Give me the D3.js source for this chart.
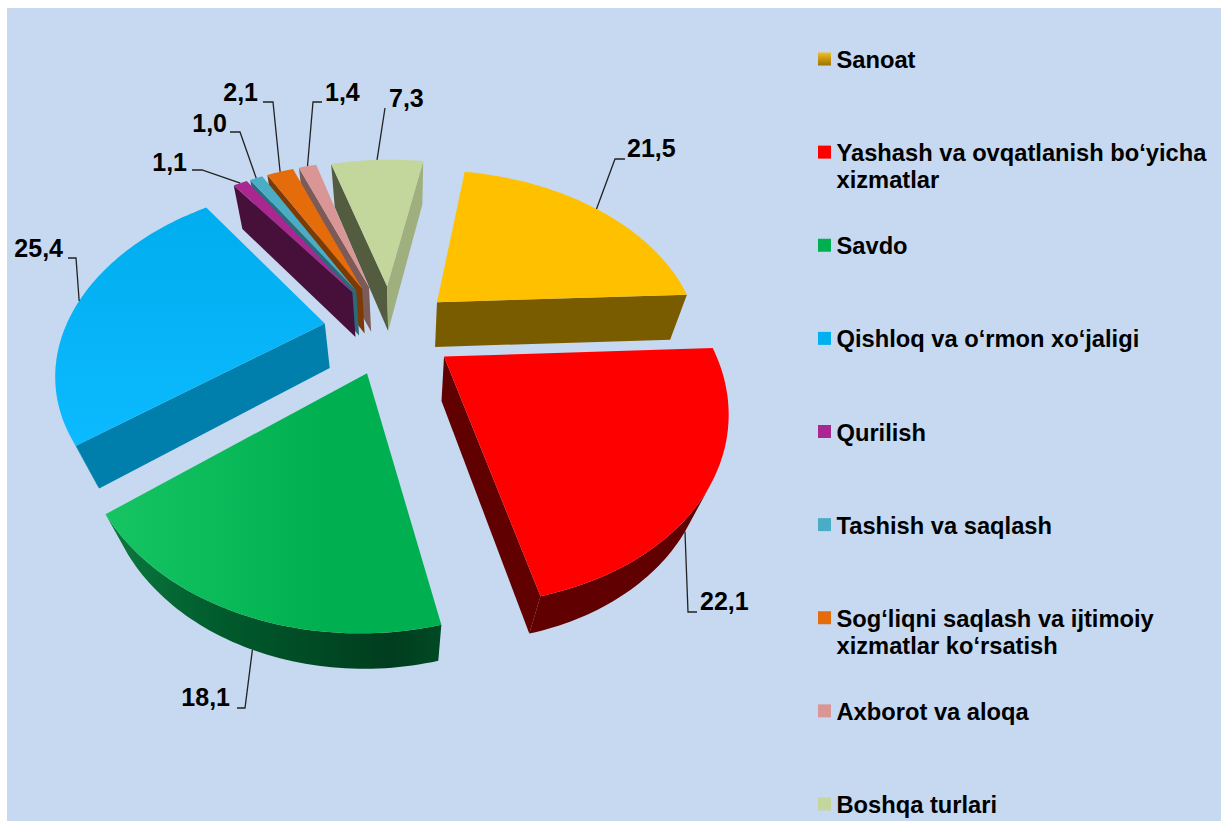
<!DOCTYPE html>
<html>
<head>
<meta charset="utf-8">
<script src="https://cdn.jsdelivr.net/npm/d3@7"></script>
<style>
  body { margin: 0; background: #fff; }
  text { font-family: "Liberation Sans", Arial, sans-serif; font-weight: bold; fill: #000; }
</style>
</head>
<body>
<svg id="main" width="1221" height="821"></svg>
<script>
let sectors = ['Sanoat', 'Yashash va ovqatlanish bo‘yicha|xizmatlar', 'Savdo', 'Qishloq va o‘rmon xo‘jaligi',
  'Qurilish', 'Tashish va saqlash', 'Sog‘liqni saqlash va ijtimoiy|xizmatlar ko‘rsatish', 'Axborot va aloqa', 'Boshqa turlari'];
let shares = [21.5, 22.1, 18.1, 25.4, 1.1, 1.0, 2.1, 1.4, 7.3];
let shareLabels = ['21,5', '22,1', '18,1', '25,4', '1,1', '1,0', '2,1', '1,4', '7,3'];
let topColors = ['#ffc000', '#ff0000', 'url(#greenTop)', 'url(#blueTop)', '#a9278f', '#4bacc6', '#e46c0a', '#d99694', '#c3d69b'];
let keyColors = ['url(#goldKey)', '#ff0000', '#00b050', '#00b0f0', '#a9278f', '#4bacc6', '#e46c0a', '#d99694', '#c3d69b'];
let sideColors = ['#7a5c00', '#600000', 'url(#greenSide)', '#007fac', '#47103a', '#2b6a7d', '#7c3a05', '#7c5a58', '#545c40'];
let explosion = [.245, .248, .252, .256, .272, .272, .272, .272, .263];

// label text spot + leader elbow, one per slice: [textX, baseline, anchor, elbow points]
let labelSpots = [
  [627, 157, 'start', [[615, 159], [625, 159]]],
  [700, 610, 'start', [[688, 612], [697, 612]]],
  [230, 706, 'end', [[245, 708], [237, 708]]],
  [63, 257, 'end', [[76, 258], [68, 258]]],
  [187, 171, 'end', [[202, 170], [192, 170]]],
  [227, 132, 'end', [[240, 132], [230, 132]]],
  [258, 101, 'end', [[273, 102], [263, 102]]],
  [325, 101, 'start', [[313, 102], [322, 102]]],
  [389, 107, 'start', [[385, 108]]]
];

//--------camera, fitted to the picture----------
let view = {cx: 390.5, cy: 329.4, a: 261.5, b: 174.25, p: .235, s: 3.69, t: -2.885, q: .066, vx: 405, vy: 1050};
function project(x, z, low=false){
  let w = 1 - view.p * z;
  let px = view.cx + (view.a * x + view.s * z) / w;
  let py = view.cy + (view.b * z + view.t * x) / w;
  if(low){
    let k = view.q / (w + view.q);
    px += (view.vx - px) * k;
    py += (view.vy - py) * k;
  }
  return [px, py];
}

let svg = d3.select('#main');
let defs = svg.append('defs');
function gradient(id, x2, y2, stops){
  let g = defs.append('linearGradient').attr('id', id)
  .attr('x1', 0).attr('y1', 0).attr('x2', x2).attr('y2', y2);
  g.selectAll('stop').data(stops).join('stop')
  .attr('offset', d=>d[0]).attr('stop-color', d=>d[1]);
}
gradient('greenTop', 1, 0, [[0, '#16c462'], [.65, '#00b050'], [1, '#00b050']]);
gradient('blueTop', 0, 1, [[0, '#00adee'], [1, '#0cbaff']]);
gradient('greenSide', 1, 0, [[0, '#0b7a3e'], [.35, '#005a2c'], [.85, '#003d1e'], [1, '#004a24']]);
gradient('goldKey', 0, 1, [[0, '#eec22a'], [.5, '#c8960c'], [1, '#9a7400']]);

svg.append('rect').attr('x', 7).attr('y', 8).attr('width', 1214).attr('height', 813).attr('fill', '#c6d9f1');

let arcs = d3.pie().sort(null)
.startAngle(10.92 * Math.PI / 180)
.endAngle((360 + 10.92) * Math.PI / 180)(shares);

let line = d3.line();
let slices = arcs.map((d, i)=>{
  let mid = (d.startAngle + d.endAngle) / 2;
  let ex = explosion[i] * Math.sin(mid);
  let ez = -explosion[i] * Math.cos(mid);
  let steps = Math.max(2, Math.ceil((d.endAngle - d.startAngle) / .02));
  let ground = d3.range(steps + 1).map(j=>{
    let a = d.startAngle + (d.endAngle - d.startAngle) * j / steps;
    return [ex + Math.sin(a), ez - Math.cos(a)];
  });
  return {i, d, mid, ex, ez, ground};
});

function wallShade(sl, normal){
  // the wall turned right to the light comes out paler
  if(Math.sin(normal) > .85 && !sideColors[sl.i].startsWith('url')){
    return d3.interpolateRgb(sideColors[sl.i], topColors[sl.i])(.68);
  }
  return sideColors[sl.i];
}

// far slices first
let order = slices.slice().sort((a, b)=>a.ez - b.ez);
for(let sl of order){
  let g = svg.append('g');
  let outline = [[sl.ex, sl.ez], ...sl.ground];
  let top = outline.map(p=>project(p[0], p[1]));
  let low = outline.map(p=>project(p[0], p[1], true));
  let n = outline.length;
  // walls: each edge of the top outline, kept when it faces the viewer
  let visible = d3.range(n).map(j=>{
    let k = (j + 1) % n;
    return d3.polygonArea([top[j], top[k], low[k], low[j]]) > 0;
  });
  let addWall = (from, to, fill)=>{
    let idx = d3.range(from, to + 1).map(j=>j % n);
    let pts = idx.map(j=>top[j]).concat(idx.slice().reverse().map(j=>low[j]));
    g.append('path').attr('d', line(pts) + 'Z').attr('fill', fill);
  };
  // start wall
  if(visible[0]) addWall(0, 1, wallShade(sl, sl.d.startAngle - Math.PI / 2));
  // end wall
  if(visible[n - 1]) addWall(n - 1, n, wallShade(sl, sl.d.endAngle + Math.PI / 2));
  // outer wall, contiguous runs only
  let j = 1;
  while(j < n - 1){
    if(!visible[j]){ j++; continue; }
    let from = j;
    while(j < n - 1 && visible[j]) j++;
    addWall(from, j, sideColors[sl.i]);
  }
  g.append('path').attr('d', line(top) + 'Z').attr('fill', topColors[sl.i]);
}

//--------leaders and value labels----------
for(let sl of slices){
  let x = sl.ex + Math.sin(sl.mid);
  let z = sl.ez - Math.cos(sl.mid);
  let anchor = project(x, z, z > 0);
  let spot = labelSpots[sl.i];
  svg.append('path')
  .attr('d', line([anchor, ...spot[3]]))
  .attr('fill', 'none').attr('stroke', '#222').attr('stroke-width', 1.3);
  svg.append('text')
  .attr('x', spot[0]).attr('y', spot[1])
  .attr('text-anchor', spot[2])
  .style('font-size', '25px')
  .text(shareLabels[sl.i]);
}

//--------legend----------
let row = d3.scaleLinear().domain([0, sectors.length - 1]).range([59, 804]);
let legend = svg.selectAll('.key').data(sectors).join('g').attr('class', 'key')
.attr('transform', (d, i)=>`translate(0,${row(i)})`);
legend.append('rect')
.attr('x', 818).attr('y', -6.5).attr('width', 13).attr('height', 13)
.attr('fill', (d, i)=>keyColors[i]);
legend.each(function(d){
  let parts = d.split('|');
  d3.select(this).selectAll('text').data(parts).join('text')
  .attr('x', 836.5).attr('y', (t, j)=>9 + j * 27)
  .style('font-size', '23.7px')
  .text(t=>t);
});
</script>
</body>
</html>
